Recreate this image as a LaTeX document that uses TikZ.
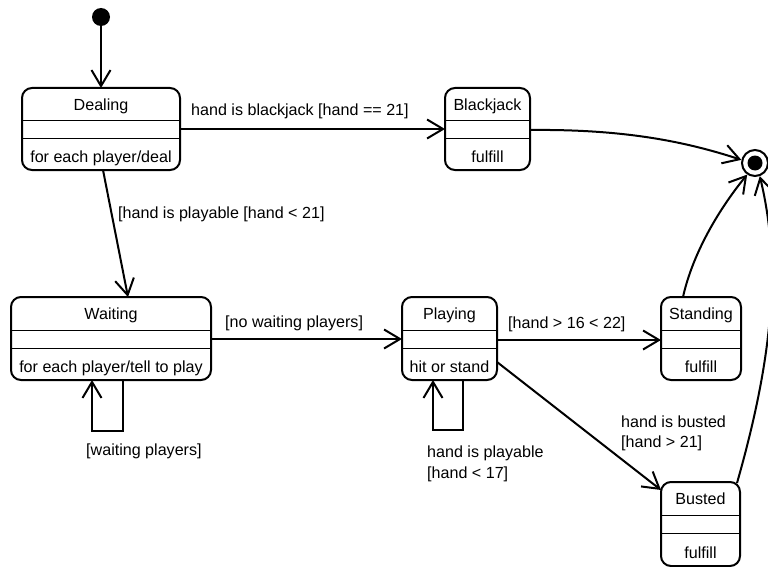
\documentclass[tikz,border=0pt]{standalone}
\usepackage{fontspec}
\setmainfont{Liberation Sans}
\usetikzlibrary{arrows.meta}
\tikzset{
  statebox/.style={draw, line width=2pt, rounded corners=10pt, inner sep=0pt, outer sep=0pt},
  sepline/.style={line width=1pt},
  arr/.style={line width=2pt, -{Straight Barb[length=16pt, width=19pt]}},
  lbl/.style={inner sep=0pt, anchor=base west},
  ttl/.style={inner sep=0pt, anchor=base},
}
\newcommand\umlstate[7]{%
  \node[statebox, minimum width=#4pt, minimum height=#5pt] (#1) at (#2,#3) {};
  \draw[sepline] ([yshift=-33pt]#1.north west) -- ([yshift=-33pt]#1.north east);
  \draw[sepline] ([yshift=-51pt]#1.north west) -- ([yshift=-51pt]#1.north east);
  \node[ttl] (#1-title) at ([yshift=-22.5pt]#1.north) {#6};
  \node[ttl] (#1-body) at ([yshift=8pt]#1.south) {#7};
}
\begin{document}
\begin{tikzpicture}[x=1pt, y=-1pt, font=\fontsize{16.1}{19}\selectfont]
\useasboundingbox (0,0) rectangle (768,567);

% initial and final states
\node[circle, fill=black, minimum size=18pt, inner sep=0pt] (init) at (101,17) {};
\node[circle, draw, line width=2pt, minimum size=26pt, inner sep=0pt] (final) at (755,163) {};
\node[circle, fill=black, minimum size=15pt, inner sep=0pt] (finaldot) at (final.center) {};

% states
\umlstate{dealing}{101}{129}{158}{82}{Dealing}{for each player/deal}
\umlstate{blackjack}{487.5}{129}{85}{82}{Blackjack}{fulfill}
\umlstate{waiting}{111}{338.5}{200}{83}{Waiting}{for each player/tell to play}
\umlstate{playing}{449.5}{338.5}{95}{83}{Playing}{hit or stand}
\umlstate{standing}{701}{338.5}{80}{83}{Standing}{fulfill}
\umlstate{busted}{700.5}{524}{79}{84}{Busted}{fulfill}

% transitions
\draw[arr] (init) -- (dealing.north -| init);
\draw[arr] (dealing.east |- 0,129) -- (blackjack.west |- 0,129);
\draw[arr] (dealing.south -| 103,0) -- (waiting.north -| 128,0);
\draw[arr] (waiting.east |- 0,339) -- (playing.west |- 0,339);
\draw[arr] (playing.east |- 0,340) -- (standing.west |- 0,340);
\draw[arr] (playing.east |- 0,362) -- (busted.west |- 0,490);
\draw[arr] (waiting.south -| 123,0) -- (123,431) -- (92,431) -- (waiting.south -| 92,0);
\draw[arr] (playing.south -| 463,0) -- (463,430) -- (433,430) -- (playing.south -| 433,0);
\draw[arr] (blackjack.east |- 0,130) .. controls +(95,-1) and +(-55,-18) .. (final.167);
\draw[arr] (standing.north -| 683,0) .. controls +(10,-45) and +(-27,33) .. (final.236);
\draw[arr] (busted.north east) ++(-3,1) .. controls (775,350) and (780,260) .. (final.290);

% labels
\node[lbl] (l1) at (191,116) {hand is blackjack [hand == 21]};
\node[lbl] (l2) at (118,218) {[hand is playable [hand < 21]};
\node[lbl] (l3) at (225,327) {[no waiting players]};
\node[lbl] (l4) at (508,328) {[hand > 16 < 22]};
\node[lbl] (l5) at (86,455) {[waiting players]};
\node[lbl] (l6) at (427,457) {hand is playable};
\node[lbl] (l7) at (427,478) {[hand < 17]};
\node[lbl] (l8) at (621,427) {hand is busted};
\node[lbl] (l9) at (621,447) {[hand > 21]};
\end{tikzpicture}
\end{document}
